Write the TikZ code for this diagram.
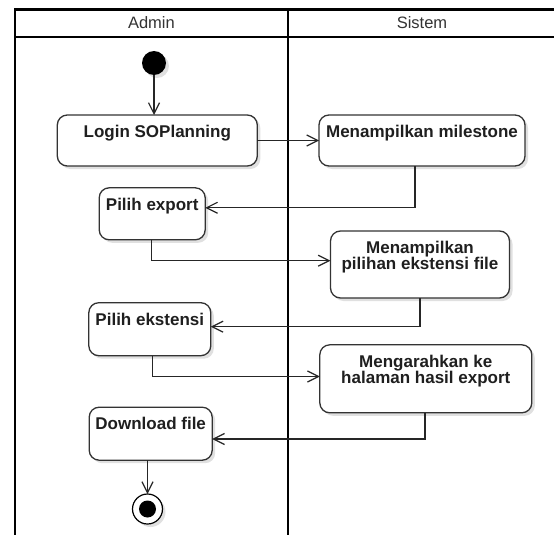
\documentclass[tikz,border=0pt]{standalone}
\usepackage{fontspec}
\setmainfont{Liberation Sans}
\usetikzlibrary{arrows.meta,shadows}
\begin{document}
\begin{tikzpicture}[x=1pt,y=-1pt,
  lane/.style={line width=2.2pt, draw=black},
  shad/.style={drop shadow={shadow xshift=3pt, shadow yshift=-3pt, opacity=0.12, fill=black}},
  act/.style={draw=black!80, line width=1.3pt, rounded corners=10pt, fill=white, inner sep=0pt, outer sep=0pt, shad},
  acttext/.style={anchor=north, inner sep=0pt, align=center, font=\fontsize{17}{16.3}\selectfont\bfseries, text=black!88},
  hdr/.style={font=\fontsize{16.5}{18}\selectfont, text=black!80, inner sep=0pt},
  flow/.style={draw=black!85, line width=1.2pt, -{Straight Barb[length=11pt,width=11pt]}},
  ]
\useasboundingbox (0,0) rectangle (554,535);
\fill[white] (0,0) rectangle (554,535);

% swimlane frame
\draw[lane] (14.7,545) -- (14.7,9.5) -- (565,9.5);
\draw[lane] (14.7,37) -- (565,37);
\draw[lane] (288,9.5) -- (288,545);
\node[hdr] (hadmin) at (151.4,23) {Admin};
\node[hdr] (hsistem) at (422,23) {Sistem};

% start / end
\node[circle, fill=black, minimum size=24pt, inner sep=0pt, outer sep=0pt, shad] (init) at (154,63) {};
\node[circle, draw=black, line width=1.2pt, fill=white, minimum size=30pt, inner sep=0pt, outer sep=0pt, shad] (fin) at (147.5,509) {};
\node[circle, fill=black, minimum size=17pt, inner sep=0pt] (finin) at (fin) {};

% activities
\node[act, minimum width=200pt, minimum height=51pt] (login) at (157.3,140.5) {};
\node[act, minimum width=206pt, minimum height=51pt] (mile) at (422,140.5) {};
\node[act, minimum width=106pt, minimum height=52pt] (pexp) at (152.2,213.8) {};
\node[act, minimum width=179pt, minimum height=67pt] (pilihan) at (420,264.5) {};
\node[act, minimum width=122pt, minimum height=53pt] (pekst) at (149.8,329.2) {};
\node[act, minimum width=212pt, minimum height=68pt] (meng) at (425.8,378.8) {};
\node[act, minimum width=123pt, minimum height=53pt] (down) at (150.7,433.7) {};

\node[acttext] (tlogin) at ([yshift=-9.8pt]login.north) {Login SOPlanning};
\node[acttext] (tmile) at ([yshift=-9.8pt]mile.north) {Menampilkan milestone};
\node[acttext] (tpexp) at ([yshift=-9.8pt]pexp.north) {Pilih export};
\node[acttext] (tpilihan) at ([yshift=-9.8pt]pilihan.north) {Menampilkan\\pilihan ekstensi file};
\node[acttext] (tpekst) at ([yshift=-9.8pt]pekst.north) {Pilih ekstensi};
\node[acttext] (tmeng) at ([yshift=-9.8pt]meng.north) {Mengarahkan ke\\halaman hasil export};
\node[acttext] (tdown) at ([yshift=-9.8pt]down.north) {Download file};

% flows
\draw[flow] (init) -- (init |- login.north);
\draw[flow] (login.east) -- (mile.west);
\draw[flow] ([xshift=-7pt]mile.south) |- ([yshift=6pt]pexp.east);
\draw[flow] ([xshift=-1pt]pexp.south) |- ([yshift=3.8pt]pilihan.west);
\draw[flow] (pilihan.south) |- ([yshift=2.5pt]pekst.east);
\draw[flow] ([xshift=2.5pt]pekst.south) |- ([yshift=2.3pt]meng.west);
\draw[flow] ([xshift=-0.8pt]meng.south) |- ([yshift=-5.3pt]down.east);
\draw[flow] ([xshift=-3.2pt]down.south) -- (fin);
\end{tikzpicture}
\end{document}
